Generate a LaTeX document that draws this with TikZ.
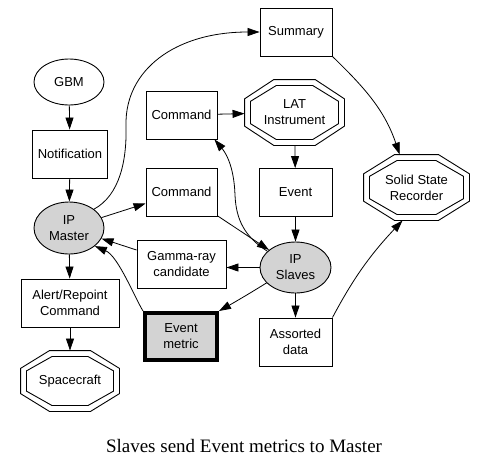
\documentclass[tikz,border=0pt]{standalone}
\usepackage{fontspec}
\setmainfont{Liberation Serif}
\newfontfamily\arialf{Liberation Sans}
\usetikzlibrary{arrows.meta,calc,shapes.geometric}
\definecolor{ipgray}{RGB}{211,211,211}
\tikzset{
  nbase/.style={font=\arialf\fontsize{13}{16}\selectfont, align=center, inner sep=0pt, line width=0.9pt},
  box/.style={nbase, draw, rectangle, minimum height=48pt},
  oval/.style={nbase, draw, ellipse},
  octo/.style={nbase, rectangle},
  octin/.style={rectangle, inner sep=0pt},
  link/.style={line width=0.8pt, -{Triangle[length=12pt,width=8pt]}},
}
\newcommand{\octoline}[1]{%
  \draw[line width=0.9pt]
    ($(#1.north west)!.2929!(#1.north east)$) -- ($(#1.north west)!.7071!(#1.north east)$) --
    ($(#1.north east)!.2929!(#1.south east)$) -- ($(#1.north east)!.7071!(#1.south east)$) --
    ($(#1.south east)!.2929!(#1.south west)$) -- ($(#1.south east)!.7071!(#1.south west)$) --
    ($(#1.south west)!.2929!(#1.north west)$) -- ($(#1.south west)!.7071!(#1.north west)$) -- cycle;}
\begin{document}
\begin{tikzpicture}[x=1pt,y=-1pt]
\useasboundingbox (0,0) rectangle (487,467);
% left column
\node[oval, minimum width=70pt, minimum height=46pt] (gbm) at (69,82) {GBM};
\node[box, minimum width=75pt] (note) at (70,154) {Notification};
\node[oval, fill=ipgray, minimum width=70pt, minimum height=52pt] (mas) at (69,228) {IP\\Master};
\node[box, minimum width=98pt] (alert) at (70,303) {Alert/Repoint\\Command};
\node[octo, minimum width=98pt, minimum height=60pt] (sc) at (70,381) {Spacecraft};
\node[octin, minimum width=86.6pt, minimum height=48.6pt] (sci) at (70,381) {};
% middle column
\node[box, minimum width=71pt] (cmd1) at (181.5,115) {Command};
\node[box, minimum width=71pt] (cmd2) at (181.5,192) {Command};
\node[box, minimum width=89pt] (gam) at (181.5,264) {Gamma-ray\\candidate};
\node[box, fill=ipgray, line width=4pt, minimum width=72pt, minimum height=47pt] (em) at (181,336.5) {Event\\metric};
% right-middle column
\node[box, minimum width=72pt] (sum) at (296,32) {Summary};
\node[octo, minimum width=99pt, minimum height=65pt] (lat) at (294.5,112.5) {LAT\\Instrument};
\node[octin, minimum width=87.6pt, minimum height=53.6pt] (lati) at (294.5,112.5) {};
\node[box, minimum width=73pt] (ev) at (295.5,192.5) {Event};
\node[oval, fill=ipgray, minimum width=71pt, minimum height=51pt] (sla) at (295.5,267.5) {IP\\Slaves};
\node[box, minimum width=73pt] (asd) at (295.5,342) {Assorted\\data};
% right
\node[octo, minimum width=105pt, minimum height=65pt] (ssr) at (416.5,187.5) {Solid State\\Recorder};
\node[octin, minimum width=93.6pt, minimum height=53.6pt] (ssri) at (416.5,187.5) {};
\octoline{sc}\octoline{sci}
\octoline{lat}\octoline{lati}
\octoline{ssr}\octoline{ssri}
% caption
\node[font=\fontsize{19}{23}\selectfont, anchor=base, inner sep=0pt] (cap) at (244,452) {Slaves send Event metrics to Master};
% edges
\draw[link] (gbm) -- (note);
\draw[link] (note) -- (mas);
\draw[link] (mas) -- (alert);
\draw[link] (alert) -- (sc);
\draw[link] (mas) -- (cmd2);
\draw[link] (mas.37) .. controls (120,195) and (127,160) .. (126,125)
   .. controls (125,70) and (175,32) .. (sum.west);
\draw[link] (cmd1) -- (lat);
\draw[link] (lat) -- (ev);
\draw[link] (ev) -- (sla);
\draw[link] (cmd2) -- (sla);
\draw[link] (sla.150) .. controls (245,237) and (236,220) .. (235,195)
   .. controls (234,165) and (225,152) .. ($(cmd1.south east)+(-3,0)$);
\draw[link] (sla.west) -- (gam.east |- sla.west);
\draw[link] ($(gam.west)+(0,-14)$) -- (mas.-18);
\draw[link] (em.north west) .. controls (134,296) and (118,256) .. (mas.-35);
\draw[link] (sla.208) .. controls (252,292) and (235,302) .. (em.north east);
\draw[link] (sla) -- (asd);
\draw[link] (sum.south east) .. controls (366,89) and (384.7,110.6) .. (ssr.117);
\draw[link] (asd.north east) .. controls (354,277) and (371,254) .. (ssr.-113);
\end{tikzpicture}
\end{document}
